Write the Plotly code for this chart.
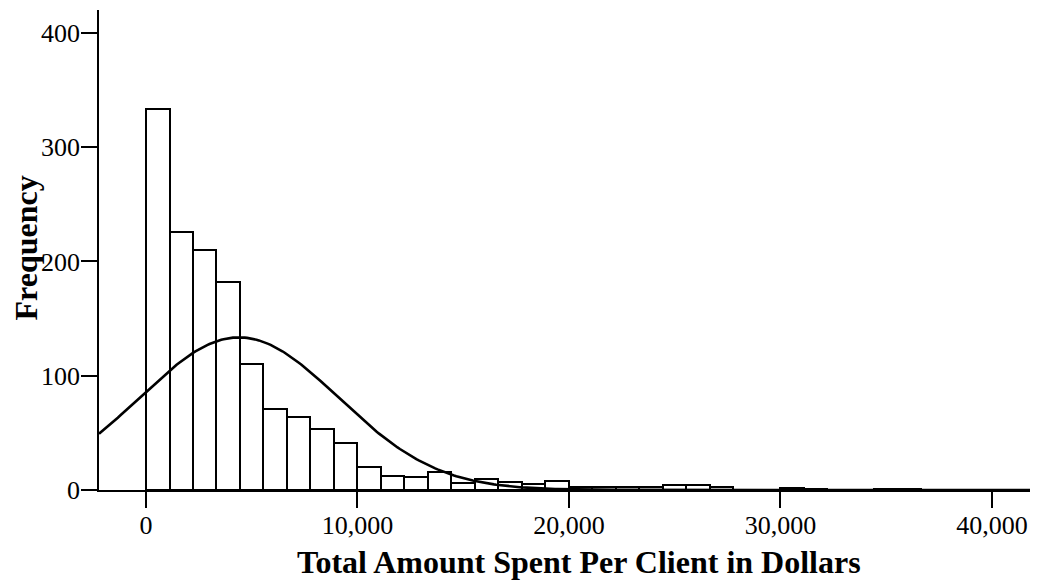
"""Histogram of total spend per client with a fitted normal curve."""
import numpy as np
import plotly.graph_objects as go

# Histogram bins: width 10,000 / 9, first edge at 0.
BIN_WIDTH = 10000 / 9
COUNTS = [
    333, 226, 210, 182, 110, 71, 64, 53, 41, 20,
    12, 11, 16, 6, 10, 7, 5, 8, 3, 3,
    3, 3, 4, 4, 3, 0, 0, 2, 1, 0,
    0, 1, 1,
]

# Normal curve parameters.
FIT_MEAN = 4400
FIT_SD = 4690

X_TICKS = [0, 10000, 20000, 30000, 40000]
X_TICK_LABELS = ["0", "10,000", "20,000", "30,000", "40,000"]
Y_TICKS = [0, 100, 200, 300, 400]
X_RANGE = [-2222, 42128]
Y_RANGE = [0, 420]

FONT = "Liberation Serif, Times New Roman, serif"

centers = [BIN_WIDTH * (i + 0.5) for i in range(len(COUNTS))]
n_total = sum(COUNTS)

curve_x = np.linspace(X_RANGE[0], X_RANGE[1], 400)
curve_y = (
    n_total * BIN_WIDTH / (FIT_SD * np.sqrt(2 * np.pi))
    * np.exp(-0.5 * ((curve_x - FIT_MEAN) / FIT_SD) ** 2)
)

fig = go.Figure()
fig.add_trace(
    go.Bar(
        x=centers,
        y=COUNTS,
        width=BIN_WIDTH,
        marker={"color": "white", "line": {"color": "black", "width": 2}},
        hoverinfo="x+y",
    )
)
fig.add_trace(
    go.Scatter(
        x=curve_x,
        y=curve_y,
        mode="lines",
        line={"color": "black", "width": 2.6},
        hoverinfo="skip",
    )
)

axis_common = {
    "showline": True,
    "linecolor": "black",
    "linewidth": 1.5,
    "showgrid": False,
    "zeroline": False,
    "automargin": False,
    "ticks": "outside",
    "ticklen": 16,
    "tickwidth": 2,
    "tickcolor": "black",
    "tickfont": {"family": FONT, "size": 26, "color": "black"},
}

fig.update_xaxes(
    range=X_RANGE,
    tickvals=X_TICKS,
    ticktext=X_TICK_LABELS,
    ticklabelstandoff=-5,
    **axis_common,
)
fig.update_yaxes(
    range=Y_RANGE,
    tickvals=Y_TICKS,
    ticklabelstandoff=-4,
    **axis_common,
)

fig.add_annotation(
    text="<b>Total Amount Spent Per Client in Dollars</b>",
    xref="paper", yref="paper",
    x=0.512, y=0,
    xanchor="center", yanchor="middle",
    yshift=-72,
    showarrow=False,
    font={"family": FONT, "size": 32, "color": "black"},
)
fig.add_annotation(
    text="<b>Frequency</b>",
    xref="paper", yref="paper",
    x=-0.078, y=0.505,
    xanchor="center", yanchor="middle",
    textangle=-90,
    showarrow=False,
    font={"family": FONT, "size": 32, "color": "black"},
)

# The page body adds an 8px offset, so the figure is 8px smaller than the window.
fig.update_layout(
    width=1030,
    height=575,
    margin={"l": 91, "r": 1, "t": 2, "b": 93},
    showlegend=False,
    bargap=0,
    paper_bgcolor="white",
    plot_bgcolor="white",
    font={"family": FONT, "color": "black"},
)

fig.write_html("out.html")
